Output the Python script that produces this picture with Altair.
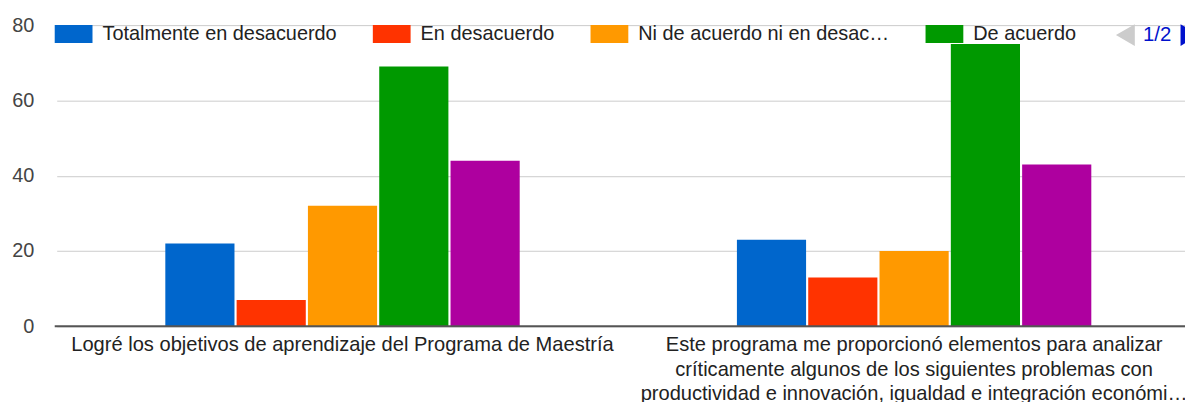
import altair as alt
import pandas as pd

categories = [
    "Logré los objetivos de aprendizaje del Programa de Maestría",
    "Este programa me proporcionó elementos para analizar\ncríticamente algunos de los siguientes problemas con\nproductividad e innovación, igualdad e integración económica y social",
]
series = [
    "Totalmente en desacuerdo",
    "En desacuerdo",
    "Ni de acuerdo ni en desacuerdo",
    "De acuerdo",
    "Totalmente de acuerdo",
]
values_q1 = [22, 7, 32, 69, 44]
values_q2 = [23, 13, 20, 75, 43]
colors = ["#0066CC", "#FF3300", "#FF9900", "#009900", "#AE009F"]
y_ticks = [0, 10, 20, 30, 40, 50, 60, 70, 80]
legend_shown = series[:4]
pager_text = ["1/2"]

rows = []
for cat, vals in zip(categories, [values_q1, values_q2]):
    for s, v in zip(series, vals):
        rows.append({"pregunta": cat, "respuesta": s, "valor": v})
df = pd.DataFrame(rows)

FONT = "Liberation Sans, Arial, sans-serif"

bars = alt.Chart(df).mark_bar().encode(
    x=alt.X(
        "pregunta:N",
        sort=categories,
        scale=alt.Scale(range=[2, 1152], paddingInner=0.38, paddingOuter=0.19),
        axis=alt.Axis(
            title=None, domain=False, ticks=False, tickSize=0, labelAngle=0,
            labelFontSize=20.2, labelFont=FONT, labelColor="#222222",
            labelPadding=8, labelLineHeight=25, labelLimit=552,
            labelExpr="split(datum.label, '\\n')",
        ),
    ),
    xOffset=alt.XOffset(
        "respuesta:N", sort=series,
        scale=alt.Scale(paddingInner=0.03, paddingOuter=0),
    ),
    y=alt.Y(
        "valor:Q",
        scale=alt.Scale(domain=[0, 80], nice=False),
        axis=alt.Axis(
            title=None, domain=False, ticks=False, tickSize=0,
            values=y_ticks,
            labelExpr="datum.value % 20 === 0 ? datum.label : ''",
            labelFontSize=20, labelFont=FONT, labelColor="#444444",
            labelPadding=21,
            gridColor={"condition": {"test": "datum.value % 20 === 0", "value": "#cccccc"}, "value": "#ebebeb"},
            gridWidth=1,
        ),
    ),
    color=alt.Color(
        "respuesta:N",
        sort=series,
        scale=alt.Scale(domain=series, range=colors),
        legend=alt.Legend(
            values=legend_shown, title=None, orient="none", direction="horizontal",
            legendX=0, legendY=-10, padding=0,
            symbolType="M-1,-0.4737H1V0.4737H-1Z", symbolSize=1444,
            symbolStrokeWidth=0, symbolOpacity=1,
            labelFontSize=20, labelFont=FONT, labelColor="#222222",
            labelOffset=10, columnPadding=36, labelLimit=258,
        ),
    ),
)

baseline = alt.Chart(pd.DataFrame({"cero": [0]})).mark_rule(color="#555555", strokeWidth=2).encode(
    y=alt.Y("cero:Q")
)

pager_df = pd.DataFrame({"pagina": pager_text})
pager = alt.Chart(pager_df).mark_text(
    font=FONT, fontSize=20.5, color="#0011cc", align="center", baseline="middle"
).encode(x=alt.value(1109), y=alt.value(10), text="pagina:N")
left_arrow = alt.Chart(pager_df).mark_point(
    shape="triangle-left", filled=True, size=480, color="#cccccc", opacity=1
).encode(x=alt.value(1077), y=alt.value(10))
right_arrow = alt.Chart(pager_df).mark_point(
    shape="triangle-right", filled=True, size=480, color="#0011cc", opacity=1
).encode(x=alt.value(1142), y=alt.value(10))

chart = alt.layer(bars, baseline, pager, left_arrow, right_arrow).properties(
    width=1137, height=303,
    autosize="none",
    padding={"left": 47, "top": 16, "right": 0, "bottom": 90},
).configure_view(strokeWidth=0)

chart.save("out.html", embed_options={"renderer": "svg", "actions": False})
